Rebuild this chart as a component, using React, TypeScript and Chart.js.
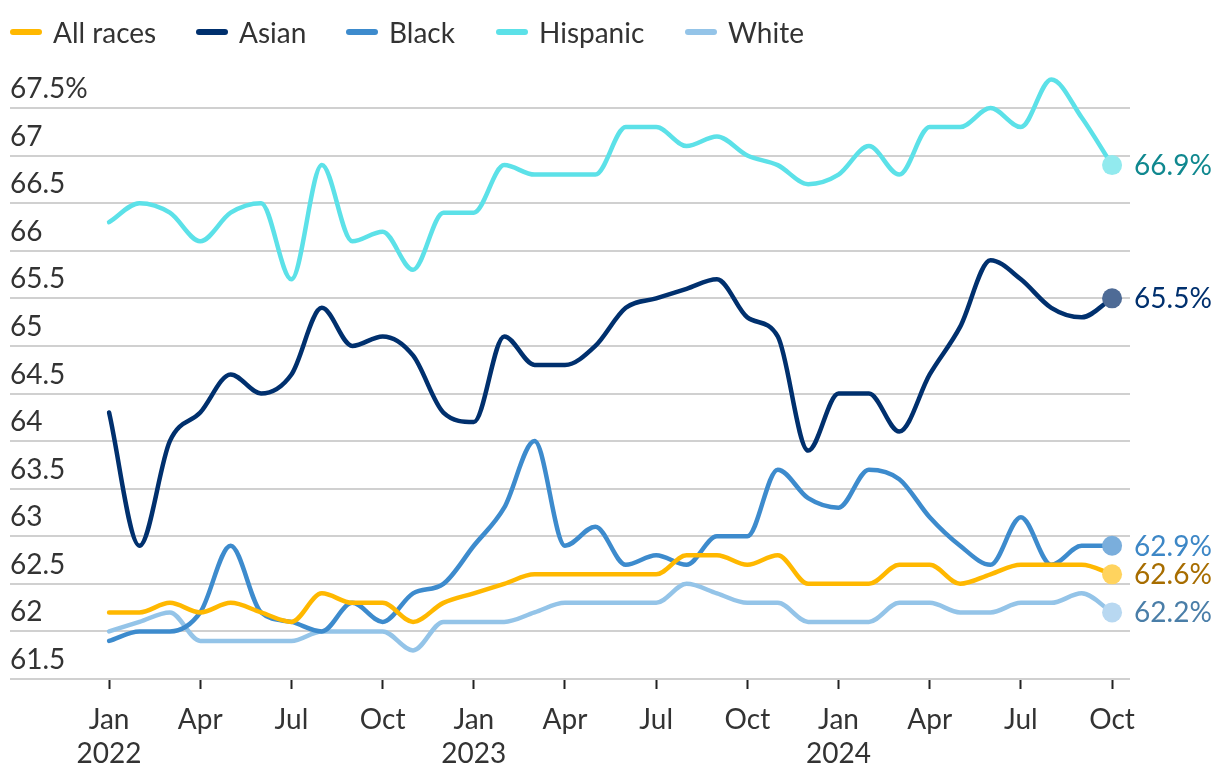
import React, { useEffect, useRef } from "react";
import { Chart, registerables } from "chart.js";

Chart.register(...registerables);

// Months Jan 2022 .. Oct 2024 (index = month number)
const months: string[] = [
  "Jan 2022", "Feb 2022", "Mar 2022", "Apr 2022", "May 2022", "Jun 2022",
  "Jul 2022", "Aug 2022", "Sep 2022", "Oct 2022", "Nov 2022", "Dec 2022",
  "Jan 2023", "Feb 2023", "Mar 2023", "Apr 2023", "May 2023", "Jun 2023",
  "Jul 2023", "Aug 2023", "Sep 2023", "Oct 2023", "Nov 2023", "Dec 2023",
  "Jan 2024", "Feb 2024", "Mar 2024", "Apr 2024", "May 2024", "Jun 2024",
  "Jul 2024", "Aug 2024", "Sep 2024", "Oct 2024",
];

const allRaces: number[] = [
  62.2, 62.2, 62.3, 62.2, 62.3, 62.2, 62.1, 62.4, 62.3, 62.3, 62.1, 62.3,
  62.4, 62.5, 62.6, 62.6, 62.6, 62.6, 62.6, 62.8, 62.8, 62.7, 62.8, 62.5,
  62.5, 62.5, 62.7, 62.7, 62.5, 62.6, 62.7, 62.7, 62.7, 62.6,
];
const asian: number[] = [
  64.3, 62.9, 64.0, 64.3, 64.7, 64.5, 64.7, 65.4, 65.0, 65.1, 64.9, 64.3,
  64.2, 65.1, 64.8, 64.8, 65.0, 65.4, 65.5, 65.6, 65.7, 65.3, 65.1, 63.9,
  64.5, 64.5, 64.1, 64.7, 65.2, 65.9, 65.7, 65.4, 65.3, 65.5,
];
const black: number[] = [
  61.9, 62.0, 62.0, 62.2, 62.9, 62.2, 62.1, 62.0, 62.3, 62.1, 62.4, 62.5,
  62.9, 63.3, 64.0, 62.9, 63.1, 62.7, 62.8, 62.7, 63.0, 63.0, 63.7, 63.4,
  63.3, 63.7, 63.6, 63.2, 62.9, 62.7, 63.2, 62.7, 62.9, 62.9,
];
const hispanic: number[] = [
  66.3, 66.5, 66.4, 66.1, 66.4, 66.5, 65.7, 66.9, 66.1, 66.2, 65.8, 66.4,
  66.4, 66.9, 66.8, 66.8, 66.8, 67.3, 67.3, 67.1, 67.2, 67.0, 66.9, 66.7,
  66.8, 67.1, 66.8, 67.3, 67.3, 67.5, 67.3, 67.8, 67.4, 66.9,
];
const white: number[] = [
  62.0, 62.1, 62.2, 61.9, 61.9, 61.9, 61.9, 62.0, 62.0, 62.0, 61.8, 62.1,
  62.1, 62.1, 62.2, 62.3, 62.3, 62.3, 62.3, 62.5, 62.4, 62.3, 62.3, 62.1,
  62.1, 62.1, 62.3, 62.3, 62.2, 62.2, 62.3, 62.3, 62.4, 62.2,
];

const seriesNames = ["All races", "Asian", "Black", "Hispanic", "White"];
const lineColors = ["#ffb800", "#00306e", "#3d8bcd", "#5ce1e8", "#94c4e8"];
const dotColors = ["#ffd35e", "#4e6b96", "#7aaedc", "#92eaee", "#b8d8f1"];
const endLabelColors = ["#a76d00", "#00306e", "#3d87c6", "#10888f", "#4a7ea8"];

const xTickMonths: number[] = [0, 3, 6, 9, 12, 15, 18, 21, 24, 27, 30, 33];
const xTickLabels: string[][] = [
  ["Jan", "2022"], ["Apr"], ["Jul"], ["Oct"],
  ["Jan", "2023"], ["Apr"], ["Jul"], ["Oct"],
  ["Jan", "2024"], ["Apr"], ["Jul"], ["Oct"],
];
const yTicks: number[] = [61.5, 62, 62.5, 63, 63.5, 64, 64.5, 65, 65.5, 66, 66.5, 67, 67.5];

const FONT = "Lato, 'Open Sans', sans-serif";
const FS = 28;

const endLabelPlugin = {
  id: "endLabels",
  afterDatasetsDraw(chart: any) {
    const ctx = chart.ctx;
    ctx.save();
    ctx.font = `${FS}px ${FONT}`;
    ctx.textAlign = "left";
    ctx.textBaseline = "middle";
    chart.data.datasets.forEach((ds: any, i: number) => {
      const meta = chart.getDatasetMeta(i);
      const last = meta.data[meta.data.length - 1];
      if (!last) return;
      const v = ds.data[ds.data.length - 1].y;
      ctx.fillStyle = endLabelColors[i];
      ctx.fillText(v.toFixed(1) + "%", last.x + 22, last.y + 1);
    });
    ctx.restore();
  },
};

export default function App() {
  const ref = useRef<HTMLCanvasElement | null>(null);

  useEffect(() => {
    document.body.style.margin = "0";
    if (!ref.current) return;
    const seriesValues = [allRaces, asian, black, hispanic, white];
    const chart = new Chart(ref.current, {
      type: "line",
      data: {
        datasets: seriesValues.map((vals, si) => ({
          label: seriesNames[si],
          data: vals.map((v, i) => ({ x: i, y: v })),
          borderColor: lineColors[si],
          backgroundColor: lineColors[si],
          borderWidth: 4.5,
          cubicInterpolationMode: "monotone" as const,
          clip: false as any,
          pointRadius: (c: any) => (c.dataIndex === vals.length - 1 ? 10 : 0),
          pointHoverRadius: 0,
          pointBackgroundColor: dotColors[si],
          pointBorderWidth: 0,
          borderCapStyle: "round" as const,
          borderJoinStyle: "round" as const,
        })),
      },
      options: {
        animation: false,
        responsive: false,
        maintainAspectRatio: false,
        layout: { padding: { left: 10, right: 90, top: 108, bottom: 0 } },
        plugins: {
          legend: { display: false },
          tooltip: { enabled: false },
        },
        scales: {
          x: {
            type: "linear",
            min: -3.26,
            max: 33.59,
            afterBuildTicks: (s: any) => {
              s.ticks = xTickMonths.map((m) => ({ value: m }));
            },
            afterFit: (s: any) => {
              s.height = 101;
            },
            grid: {
              display: true,
              drawOnChartArea: false,
              drawTicks: true,
              tickLength: 10,
              tickColor: "#222",
              tickWidth: 2,
            },
            border: { display: false },
            ticks: {
              autoSkip: false,
              maxRotation: 0,
              padding: 14,
              color: "#333",
              font: { family: FONT, size: FS, lineHeight: 1.215 },
              callback: (v: any) => {
                const k = xTickMonths.indexOf(Number(v));
                return k >= 0 ? xTickLabels[k] : "";
              },
            },
          },
          y: {
            type: "linear",
            min: 61.5,
            max: 67.5,
            afterBuildTicks: (s: any) => {
              s.ticks = yTicks.map((v) => ({ value: v }));
            },
            grid: {
              color: "#d0d0d0",
              lineWidth: 2,
              drawTicks: false,
            },
            border: { display: false },
            ticks: {
              mirror: true,
              padding: 0,
              labelOffset: -19,
              color: "#333",
              font: { family: FONT, size: FS },
              callback: (v: any) => (Number(v) === 67.5 ? "67.5%" : String(v)),
            },
          },
        },
      },
      plugins: [endLabelPlugin],
    });
    return () => chart.destroy();
  }, []);

  const legendPos = [10, 196, 346, 496, 685];

  return (
    <div style={{ position: "relative", width: 1220, height: 780, background: "#fff" }}>
      <canvas ref={ref} width={1220} height={780} style={{ position: "absolute", left: 0, top: 0 }} />
      {seriesNames.map((n, i) => (
        <div
          key={n}
          style={{
            position: "absolute",
            left: legendPos[i],
            top: 13,
            height: 38,
            display: "flex",
            alignItems: "center",
            fontFamily: FONT,
            fontSize: FS,
            color: "#333",
            whiteSpace: "nowrap",
          }}
        >
          <span
            style={{
              display: "inline-block",
              width: 32,
              height: 6,
              borderRadius: 3,
              background: lineColors[i],
              marginRight: 11,
            }}
          />
          <span>{n}</span>
        </div>
      ))}
    </div>
  );
}
